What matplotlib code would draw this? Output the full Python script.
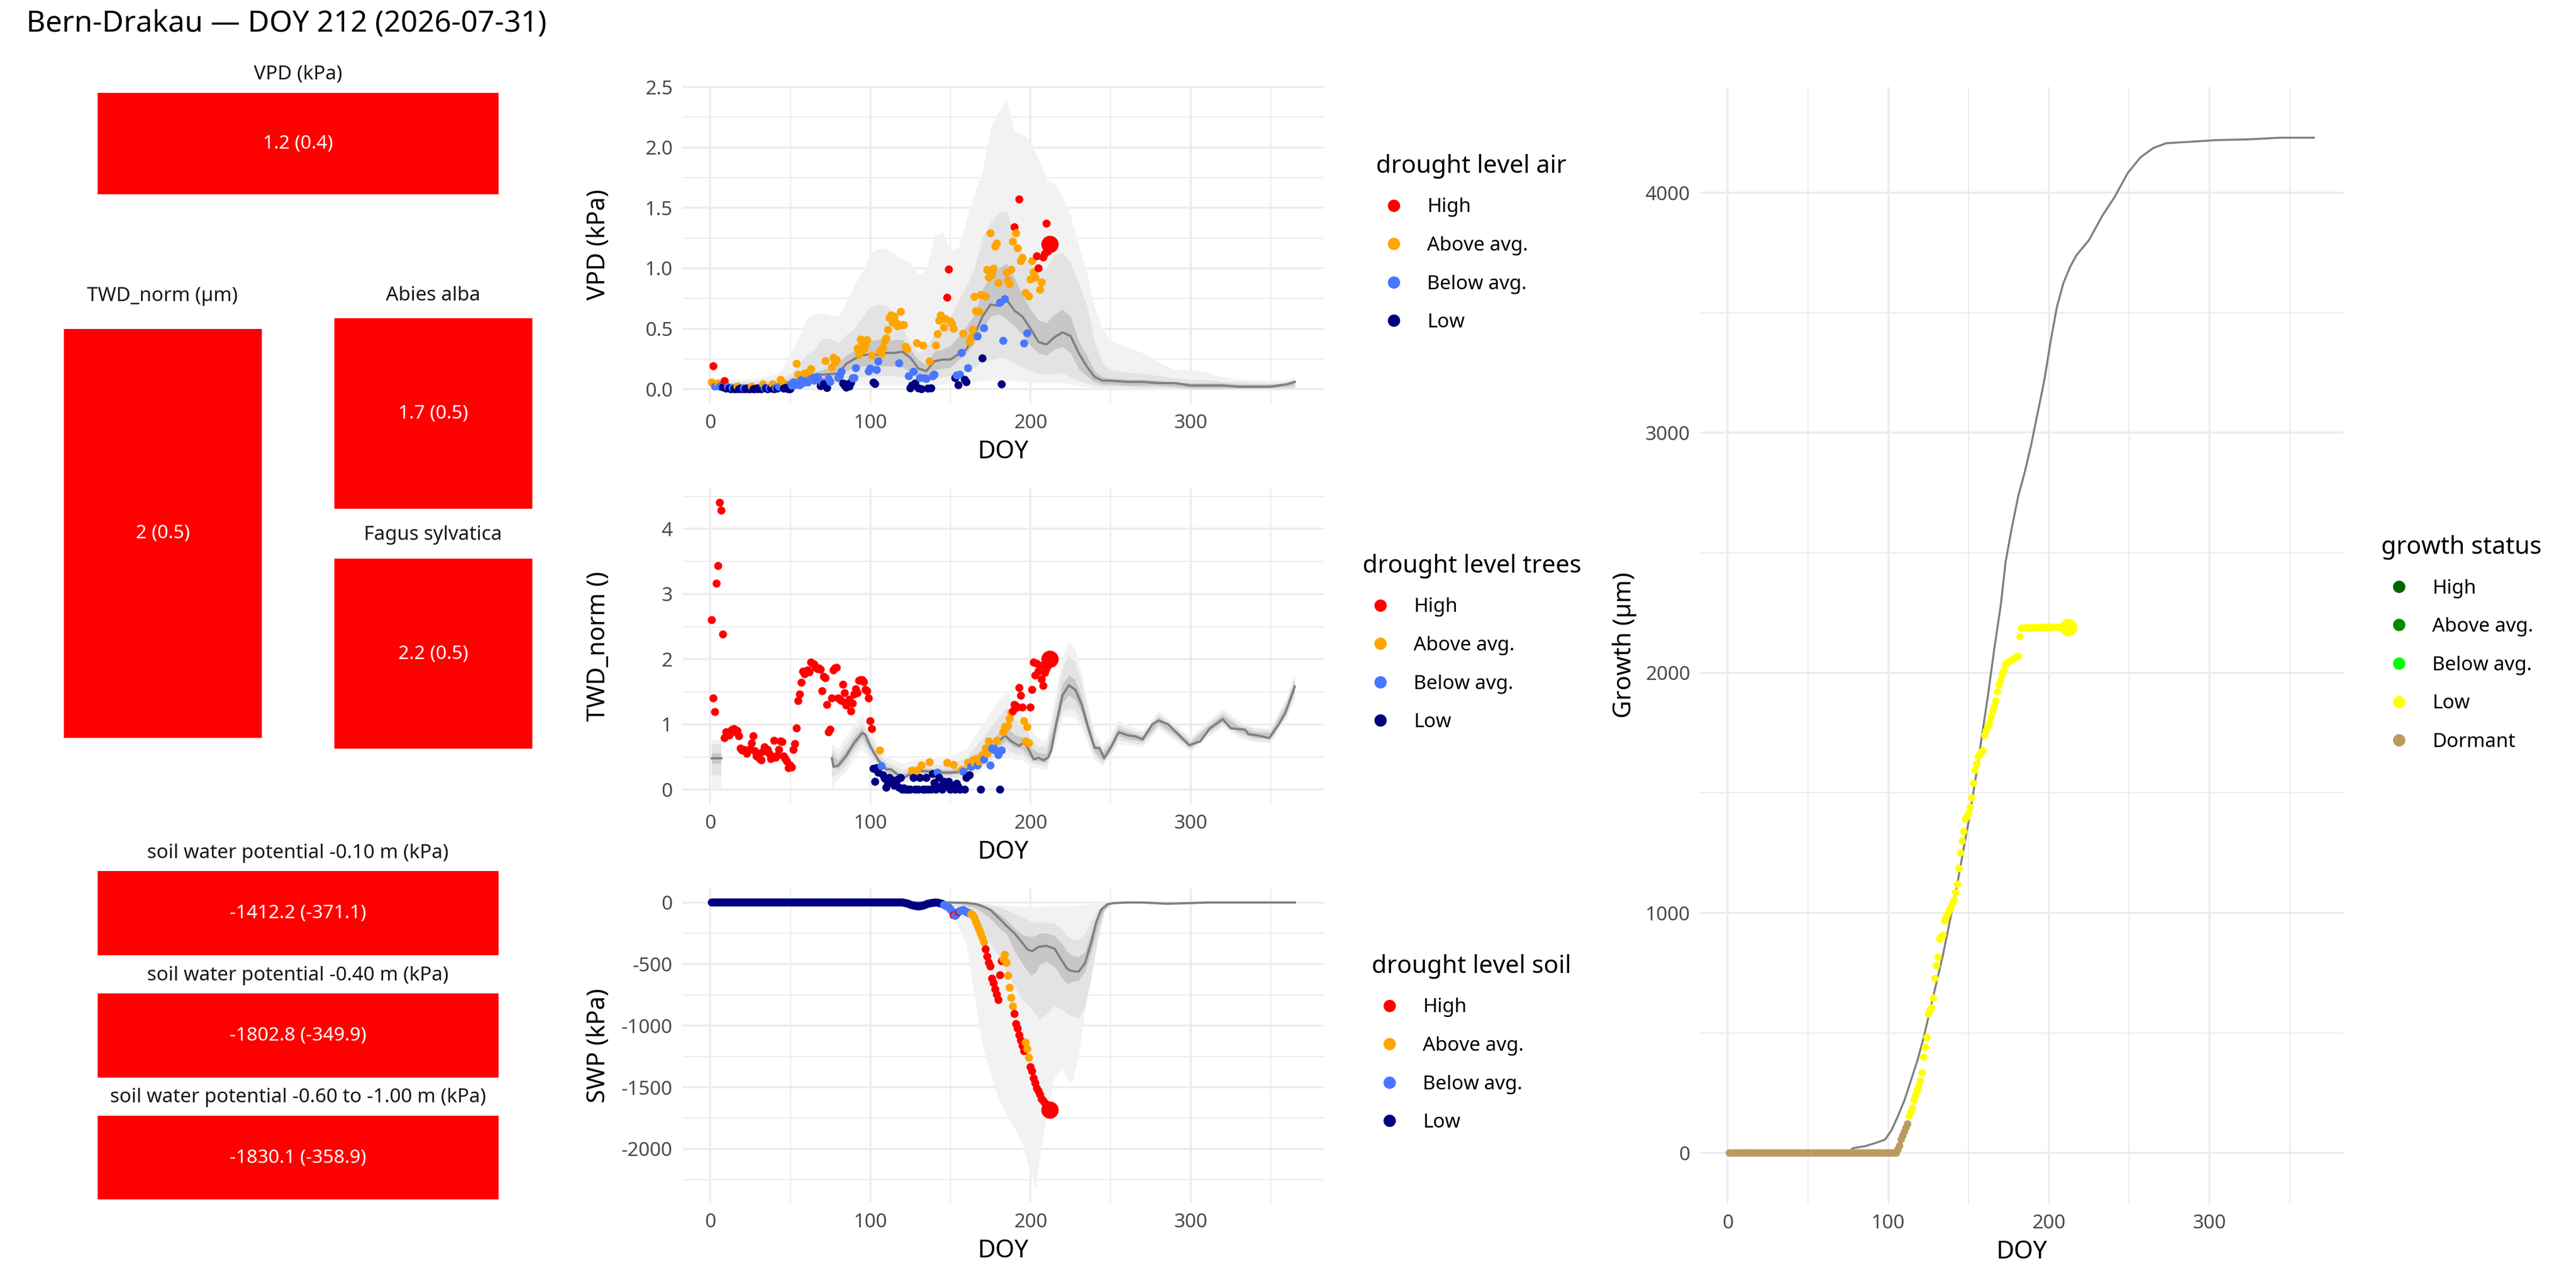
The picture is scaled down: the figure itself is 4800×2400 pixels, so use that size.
import numpy as np
import matplotlib
matplotlib.use("Agg")
import matplotlib.pyplot as plt
from matplotlib.lines import Line2D
from matplotlib.patches import Rectangle
from matplotlib.ticker import MultipleLocator, FormatStrFormatter

plt.rcParams['font.family'] = ['Noto Sans', 'DejaVu Sans']
plt.rcParams['axes.unicode_minus'] = False

nan = np.nan

# ---------------- data ----------------
plot_title = "Bern-Drakau \u2014 DOY 212 (2026-07-31)"

tile_titles = ["VPD (kPa)", "TWD_norm (\u00b5m)", "Abies alba", "Fagus sylvatica",
               "soil water potential -0.10 m (kPa)", "soil water potential -0.40 m (kPa)",
               "soil water potential -0.60 to -1.00 m (kPa)"]
tile_values = ["1.2 (0.4)", "2 (0.5)", "1.7 (0.5)", "2.2 (0.5)",
               "-1412.2 (-371.1)", "-1802.8 (-349.9)", "-1830.1 (-358.9)"]
tile_levels = ["H", "H", "H", "H", "H", "H", "H"]

level_codes = ["H", "A", "B", "L"]
level_names = ["High", "Above avg.", "Below avg.", "Low"]
level_colors = ["#FF0000", "#FFA500", "#4876FF", "#000080"]

growth_codes = ["GH", "GA", "GB", "Y", "D"]
growth_names = ["High", "Above avg.", "Below avg.", "Low", "Dormant"]
growth_colors = ["#006400", "#008B00", "#00FF00", "#FFFF00", "#BA9B5F"]

obs_doy = list(range(1, 213))

# VPD observations (daily, DOY 1..212)
vpd_obs = [
    0.055, 0.19, 0.022, 0.03, 0.047, 0.02, 0.028, 0.015, 0.067, 0.005,
    0.018, 0.005, 0.0, 0.01, 0.0, 0.0, 0.022, 0.0, 0.005, 0.0,
    0.008, 0.0, 0.005, 0.0, 0.0, 0.02, 0.0, 0.0, 0.005, 0.0,
    0.01, 0.0, 0.04, 0.01, 0.005, 0.0, 0.008, 0.005, 0.04, 0.0,
    0.01, 0.005, 0.02, 0.077, 0.06, 0.005, 0.01, 0.005, 0.0, 0.0,
    0.03, 0.055, 0.033, 0.21, 0.12, 0.033, 0.077, 0.05, 0.13, 0.06,
    0.055, 0.145, 0.166, 0.09, 0.07, 0.092, 0.10, 0.07, 0.025, 0.055,
    0.04, 0.233, 0.01, 0.085, 0.06, 0.18, 0.26, 0.22, 0.24, 0.092,
    0.11, 0.144, 0.047, 0.03, 0.013, 0.04, 0.022, 0.055, 0.09, 0.092,
    0.174, 0.337, 0.285, 0.41, 0.38, 0.33, 0.36, 0.406, 0.147, 0.17,
    0.277, 0.055, 0.043, 0.159, 0.23, 0.315, 0.29, 0.344, 0.40, 0.42,
    0.49, 0.589, 0.61, 0.55, 0.60, 0.55, 0.52, 0.214, 0.64, 0.53,
    0.53, 0.35, 0.33, 0.107, 0.007, 0.03, 0.144, 0.047, 0.38, 0.007,
    0.092, 0.0, 0.36, 0.09, 0.085, 0.005, 0.23, 0.007, 0.107, 0.12,
    0.36, 0.455, 0.567, 0.61, 0.58, 0.51, 0.58, 0.757, 0.99, 0.56,
    0.54, 0.50, 0.092, 0.114, 0.033, 0.12, 0.30, 0.458, 0.077, 0.058,
    0.174, 0.39, 0.426, 0.49, 0.764, 0.645, 0.436, 0.64, 0.78, 0.255,
    0.505, 0.767, 0.987, 0.923, 1.29, 0.945, 0.997, 1.18, 1.205, 0.878,
    0.715, 0.04, 0.40, 0.745, 0.967, 0.90, 0.87, 0.987, 1.22, 1.34,
    1.29, 1.165, 1.57, 1.06, 1.086, 0.378, 0.797, 0.463, 0.767, 0.908,
    1.06, 0.967, 0.923, 1.10, 1.00, 0.823, 0.883, 1.09, 1.12, 1.37,
    1.14, 1.20]
vpd_level = list(
    "AHBBABBLHL" "BLLBLLALLL" "BLLLLALLLL" "LLABLLBLAL" "BLBAALLLLL"
    "BBBAABBBAB" "BAABBBBBLB" "LALBBAAAAB" "BBLLLLLLBB" "BAAAAAAABB"
    "ALLBBAAAAA" "AAAAAAABAA" "AAABLLBLAL" "BLABBLALBB" "AAAAAAAHHA"
    "AALBLBBALL" "BAAAAABAAL" "BAAAAAAAAA" "BLBBAAAAAH" "AAHAABABAA"
    "AAAHHAAHHH" "HH")

# TWD_norm observations
twd_obs = [
    2.60, 1.40, 1.19, 3.16, 3.43, 4.40, 4.28, 2.38, 0.79, 0.88,
    0.85, 0.83, 0.90, 0.92, 0.93, 0.88, 0.90, 0.82, 0.63, 0.60,
    0.61, 0.60, 0.55, 0.60, 0.62, 0.71, 0.82, 0.59, 0.51, 0.55,
    0.47, 0.45, 0.58, 0.65, 0.60, 0.61, 0.55, 0.47, 0.50, 0.75,
    0.49, 0.52, 0.61, 0.74, 0.73, 0.51, 0.47, 0.43, 0.33, 0.37,
    0.34, 0.61, 0.70, 0.94, 1.36, 1.46, 1.64, 1.81, 1.77, 1.79,
    1.83, 1.80, 1.95, 1.93, 1.92, 1.87, 1.85, 1.86, 1.84, 1.51,
    1.73, 1.71, 1.30, 0.88, 0.92, 1.40, 1.83, 1.86, 1.87, 1.40,
    1.38, 1.36, 1.61, 1.48, 1.29, 1.33, 1.38, 1.20, 1.32, 1.46,
    1.54, 1.48, 1.67, 1.68, 1.68, 1.65, 1.53, 1.51, 1.40, 1.05,
    0.93, 0.32, 0.12, 0.33, 0.26, 0.60, 0.36, 0.22, 0.17, 0.03,
    0.10, 0.18, 0.12, 0.14, 0.06, 0.08, 0.15, 0.03, 0.18, 0.0,
    0.02, 0.0, 0.0, 0.0, 0.0, 0.29, 0.18, 0.0, 0.29, 0.0,
    0.18, 0.37, 0.0, 0.0, 0.18, 0.0, 0.42, 0.0, 0.24, 0.10,
    0.0, 0.26, 0.18, 0.05, 0.0, 0.12, 0.05, 0.41, 0.12, 0.0,
    0.06, 0.38, 0.0, 0.09, 0.04, 0.0, 0.30, 0.275, 0.0, 0.18,
    0.41, 0.22, 0.35, 0.45, 0.41, 0.47, 0.37, 0.43, 0.0, 0.53,
    0.46, 0.63, 0.55, 0.74, 0.37, 0.63, 0.61, 0.61, 0.75, 0.53,
    0.0, 0.60, 0.88, 0.96, 0.96, 0.98, 1.09, 1.18, 1.20, 1.30,
    1.28, 1.26, 1.56, 1.44, 1.26, 1.05, 0.74, 0.96, 0.71, 1.26,
    1.53, 1.95, 1.75, 1.93, 1.81, 1.90, 1.69, 1.59, 1.79, 1.85,
    1.90, 2.00]
twd_level = list(
    "HHHHHHHHHH" "HHHHHHHHHH" "HHHHHHHHHH" "HHHHHHHHHH" "HHHHHHHHHH"
    "HHHHHHHHHH" "HHHHHHHHHH" "HHHHHHHHHH" "HHHHHHHHHH" "HHHHHHHHHH"
    "HLLLLABLLL" "LLLLLLLLLL" "LLLLLALLAL" "LALLLLALLL" "LBLLLLLALL"
    "LALLLLABLL" "ALBAAABALA" "BAAABBBBAB" "LBAAAAAAHH" "HHHHHAAAAH"
    "HHHHHHHHHH" "HH")

# soil water potential observations (kPa)
swp_obs = [0] * 120 + [
    -3, -5, -8, -12, -18, -22, -25, -28, -30, -32,
    -30, -28, -25, -20, -15, -10, -8, -5, -3, -2,
    0, -2, -5, -8, -12, -20, -28, -35, -39, -55,
    -71, -104, -108, -95, -78, -70, -65, -61, -70, -78,
    -85, -89, -95, -104, -125, -160, -190, -223, -255, -288,
    -324, -380, -439, -489, -519, -618, -655, -705, -748, -791,
    -590, -476, -460, -424, -489, -595, -692, -774, -843, -904,
    -986, -1023, -1077, -1120, -1163, -1206, -1137, -1189, -1260, -1336,
    -1369, -1427, -1466, -1509, -1531, -1560, -1596, -1610, -1628, -1640,
    -1660, -1682]
swp_level = list("L" * 145 + "BBBBBBHBBHBBBBBBB" "AAAAAAAAA" "HHHHHHHHHHH"
                 "AAAAAAA" "HHHHHHH" "AAA" "HHHHHHHHHHHHH")

# growth observations (µm)
gr_obs = [0] * 105 + [
    15, 30, 56, 72, 88, 105, 121,
    154, 170, 187, 219, 240, 259, 280, 301, 334, 399,
    440, 481, 579, 595, 605, 645, 727, 780, 815, 890,
    900, 907, 966, 980, 995, 1010, 1021, 1040, 1054, 1085,
    1119, 1185, 1250, 1299, 1339, 1391, 1400, 1414, 1440, 1479,
    1540, 1594, 1620, 1650, 1660, 1670, 1676, 1740, 1758, 1775,
    1790, 1815, 1839, 1860, 1882, 1921, 1950, 1970, 1995, 2010,
    2036, 2040, 2045, 2049, 2053, 2058, 2062, 2066, 2069, 2150,
    2186, 2186, 2186, 2187, 2187, 2187, 2188, 2188, 2188, 2188,
    2188, 2189, 2189, 2189, 2189, 2189, 2189, 2189, 2190, 2190,
    2190, 2190, 2190, 2190, 2190, 2190, 2190, 2190, 2190, 2190]
gr_level = ["D"] * 112 + ["Y"] * 100

# VPD climatology: median and three quantile ribbons
vpd_clim_doy = [1, 10, 20, 30, 40, 45, 50, 55, 60, 65, 70, 75, 80, 85, 90, 95, 100,
                105, 110, 115, 120, 125, 130, 135, 140, 145, 150, 155, 160, 165, 170,
                175, 180, 185, 190, 195, 200, 205, 210, 215, 220, 225, 230, 235, 240,
                245, 250, 260, 270, 280, 290, 300, 310, 320, 330, 340, 350, 360, 365]
vpd_med = [0.03, 0.02, 0.02, 0.02, 0.03, 0.04, 0.06, 0.08, 0.10, 0.12, 0.12, 0.125, 0.13,
           0.21, 0.25, 0.28, 0.29, 0.285, 0.30, 0.30, 0.31, 0.26, 0.17, 0.15, 0.23, 0.245,
           0.245, 0.29, 0.33, 0.45, 0.60, 0.70, 0.69, 0.74, 0.65, 0.60, 0.50, 0.39, 0.37,
           0.43, 0.47, 0.44, 0.30, 0.19, 0.10, 0.07, 0.07, 0.06, 0.06, 0.05, 0.05, 0.03,
           0.03, 0.03, 0.02, 0.02, 0.02, 0.04, 0.06]
vpd_in_lo = [.01, .01, .01, .01, .015, .02, .03, .05, .07, .09, .09, .10, .11, .15, .17, .19,
             .19, .19, .19, .19, .18, .14, .10, .09, .16, .17, .18, .24, .30, .38, .50, .60,
             .62, .58, .52, .45, .36, .30, .28, .33, .35, .30, .17, .11, .06, .04, .04, .03,
             .03, .03, .02, .01, .01, .01, .01, .01, .01, .02, .03]
vpd_in_hi = [.05, .04, .04, .04, .05, .06, .09, .11, .13, .14, .16, .18, .22, .28, .32, .37,
             .40, .41, .40, .41, .41, .33, .24, .20, .31, .33, .36, .43, .52, .62, .82, .94,
             1.00, 1.04, .92, .78, .66, .57, .55, .62, .66, .60, .40, .28, .15, .10, .09, .08,
             .08, .07, .06, .05, .05, .05, .04, .04, .04, .05, .07]
vpd_mid_lo = [0, 0, 0, 0, .01, .01, .02, .03, .04, .05, .05, .06, .07, .08, .09, .10, .11,
              .11, .11, .11, .10, .08, .06, .05, .08, .10, .11, .13, .15, .18, .22, .24, .26,
              .25, .22, .18, .15, .13, .12, .13, .13, .10, .07, .05, .03, .02, .02, .02, .01,
              .01, .01, 0, 0, 0, 0, 0, 0, 0, .01]
vpd_mid_hi = [.07, .06, .06, .07, .08, .10, .12, .20, .28, .33, .42, .42, .38, .45, .50, .60,
              .68, .70, .69, .63, .50, .38, .30, .34, .46, .53, .60, .73, .85, 1.00, 1.25,
              1.38, 1.46, 1.47, 1.27, 1.12, 1.03, .99, 1.00, 1.12, 1.13, 1.05, .88, .70, .40,
              .22, .16, .14, .13, .11, .09, .08, .08, .06, .06, .05, .05, .06, .08]
vpd_out_lo = [0, 0, 0, 0, 0, 0, 0, .01, .01, .01, .02, .02, .02, .02, .03, .03, .03, .03,
              .03, .03, .03, .02, .02, .02, .03, .04, .05, .05, .06, .06, .07, .07, .07, .07,
              .07, .06, .05, .05, .05, .05, .05, .04, .03, .02, .01, .01, .01, .01, 0, 0, 0,
              0, 0, 0, 0, 0, 0, 0, 0]
vpd_out_hi = [.09, .08, .08, .09, .12, .16, .30, .42, .58, .62, .63, .61, .60, .72, .86, .97,
              1.12, 1.16, 1.16, 1.12, 1.07, 1.05, .95, .98, 1.27, 1.30, 1.14, 1.17, 1.40, 1.62,
              1.80, 2.15, 2.30, 2.39, 2.13, 2.11, 2.05, 1.90, 1.73, 1.70, 1.60, 1.43, 1.20,
              .97, .68, .50, .40, .35, .30, .22, .16, .16, .14, .10, .08, .07, .07, .08, .10]

# TWD climatology (gap between early January and mid March)
twd_clim_doy = [1, 7, 40, 76, 77, 80, 85, 90, 95, 97, 100, 105, 110, 113, 117, 121, 125,
                130, 135, 140, 145, 150, 155, 160, 165, 170, 175, 180, 184, 188, 193, 196,
                199, 202, 205, 208, 211, 213, 216, 220, 224, 228, 232, 236, 240, 243, 246,
                250, 255, 261, 265, 270, 276, 280, 286, 293, 299, 306, 312, 320, 325, 334,
                336, 342, 349, 355, 359, 365]
twd_med = [0.48, 0.48, nan, 0.48, 0.35, 0.37, 0.52, 0.72, 0.87, 0.84, 0.66, 0.45, 0.31,
           0.31, 0.23, 0.18, 0.24, 0.29, 0.28, 0.27, 0.26, 0.26, 0.27, 0.31, 0.40, 0.50,
           0.60, 0.73, 0.83, 0.74, 0.67, 0.73, 0.61, 0.46, 0.49, 0.45, 0.49, 0.61, 1.00,
           1.45, 1.60, 1.53, 1.30, 0.95, 0.64, 0.64, 0.48, 0.64, 0.88, 0.83, 0.82, 0.77,
           1.00, 1.06, 1.00, 0.83, 0.68, 0.74, 0.94, 1.08, 0.94, 0.92, 0.85, 0.83, 0.79,
           1.00, 1.17, 1.58]
twd_rib_doy = [1, 7, 40, 76, 80, 85, 90, 95, 100, 105, 110, 115, 120, 130, 140, 150, 160,
               170, 180, 185, 190, 195, 200, 205, 210, 215, 220, 224, 228, 232, 236, 240,
               245, 250, 255, 260, 270, 280, 290, 300, 310, 320, 330, 340, 350, 360, 365]
twd_in_lo = [.40, .40, nan, .38, .31, .45, .65, .80, .60, .40, .27, .22, .16, .25, .23, .22,
             .26, .43, .65, .74, .64, .62, .48, .43, .41, .80, 1.32, 1.44, 1.38, 1.18, .86,
             .58, .45, .59, .82, .78, .73, 1.01, .84, .64, .86, 1.03, .88, .79, .78, 1.19, 1.50]
twd_in_hi = [.55, .55, nan, .56, .44, .60, .80, .94, .73, .50, .36, .30, .24, .33, .31, .30,
             .37, .60, .85, .96, .84, .80, .64, .56, .55, 1.02, 1.60, 1.75, 1.68, 1.42, 1.05,
             .71, .56, .70, .94, .89, .82, 1.11, .93, .72, .95, 1.14, .97, .88, .87, 1.31, 1.66]
twd_mid_lo = [.22, .22, nan, .18, .24, .37, .56, .72, .53, .35, .22, .18, .12, .21, .19, .18,
              .21, .36, .55, .62, .55, .54, .42, .38, .36, .72, 1.20, 1.24, 1.22, 1.05, .78,
              .52, .40, .54, .76, .73, .69, .97, .80, .61, .82, .99, .84, .75, .74, 1.14, 1.44]
twd_mid_hi = [.70, .70, nan, .62, .52, .70, .90, 1.02, .82, .58, .42, .36, .30, .38, .37, .38,
              .48, .78, 1.10, 1.25, 1.08, .98, .80, .66, .65, 1.20, 1.85, 2.05, 1.95, 1.62,
              1.18, .80, .62, .76, 1.00, .94, .86, 1.15, .97, .76, .99, 1.19, 1.01, .92, .91,
              1.36, 1.72]
twd_out_lo = [.03, .03, nan, .02, .15, .28, .46, .62, .45, .29, .17, .13, .08, .16, .14, .13,
              .15, .29, .46, .52, .46, .45, .35, .32, .30, .64, 1.10, 1.12, 1.10, .95, .70,
              .46, .36, .50, .70, .68, .65, .93, .76, .58, .78, .95, .80, .72, .71, 1.09, 1.38]
twd_out_hi = [.76, .76, nan, .70, .62, .82, 1.02, 1.14, .92, .66, .50, .44, .40, .47, .47,
              .50, .62, .98, 1.36, 1.50, 1.30, 1.15, .95, .78, .76, 1.35, 2.05, 2.28, 2.15,
              1.78, 1.30, .88, .68, .82, 1.06, 1.00, .90, 1.20, 1.01, .80, 1.03, 1.24, 1.05,
              .95, .94, 1.41, 1.78]

# SWP climatology
swp_clim_doy = [1, 100, 150, 160, 166, 170, 175, 181, 185, 190, 195, 198, 201, 205, 210,
                215, 220, 223, 226, 230, 234, 238, 241, 244, 248, 252, 260, 270, 285, 300,
                310, 330, 365]
swp_med = [0, 0, 0, -3, -13, -30, -61, -136, -190, -250, -330, -380, -396, -360, -352,
           -375, -480, -540, -557, -562, -493, -320, -160, -60, -15, -5, 0, 0, -10, -5,
           0, 0, 0]
swp_rib_doy = [1, 140, 150, 155, 160, 165, 170, 175, 180, 185, 190, 195, 200, 203, 206,
               210, 215, 220, 223, 226, 230, 234, 238, 242, 246, 250, 255, 365]
swp_in_lo = [0, 0, -5, -12, -25, -40, -80, -130, -200, -255, -390, -500, -590, -570, -500,
             -480, -520, -620, -660, -640, -635, -560, -400, -200, -60, -10, 0, 0]
swp_in_hi = [0, 0, 0, -2, -5, -10, -20, -45, -90, -140, -210, -260, -280, -270, -250,
             -250, -270, -340, -400, -430, -440, -400, -240, -100, -20, 0, 0, 0]
swp_mid_lo = [0, 0, -15, -40, -80, -140, -220, -330, -440, -560, -680, -790, -850, -900,
              -950, -900, -840, -870, -900, -920, -940, -850, -600, -300, -80, -15, 0, 0]
swp_mid_hi = [0, 0, 0, 0, -2, -5, -10, -20, -35, -60, -90, -120, -150, -160, -160, -160,
              -170, -220, -270, -300, -300, -250, -150, -60, -10, 0, 0, 0]
swp_out_lo = [0, -2, -82, -200, -340, -760, -1150, -1380, -1600, -1720, -1830, -1960,
              -2200, -2320, -2050, -1720, -1420, -1340, -1440, -1460, -1250, -870, -560,
              -250, -60, -10, 0, 0]
swp_out_hi = [0, 0, 0, 0, 0, -5, -10, -15, -20, -25, -30, -35, -35, -35, -35, -30, -30,
              -30, -30, -25, -20, -15, -10, -5, 0, 0, 0, 0]

# growth climatology
gr_clim_doy = [1, 74, 78, 86, 94, 98, 102, 106, 110, 114, 118, 122, 126, 130, 134, 138,
               142, 146, 150, 154, 158, 162, 166, 170, 173, 177, 181, 185, 189, 193, 197,
               201, 205, 209, 213, 217, 225, 233, 241, 249, 257, 265, 273, 288, 304, 324,
               344, 365]
gr_clim = [0, 0, 20, 29, 46, 56, 95, 154, 219, 301, 383, 481, 596, 710, 825, 956, 1087,
           1234, 1381, 1545, 1725, 1905, 2101, 2281, 2461, 2608, 2739, 2837, 2952, 3083,
           3214, 3378, 3525, 3623, 3688, 3738, 3803, 3901, 3983, 4081, 4147, 4186, 4206,
           4212, 4219, 4222, 4229, 4229]

# ---------------- layout / style ----------------
W, H = 4800, 2400
fig = plt.figure(figsize=(16, 8), dpi=300)
RIB = ["#F2F2F2", "#E3E3E3", "#C7C7C7"]
LINE = "#808080"
GRID = "#EBEBEB"


def frac(x0, y0, x1, y1):
    return [x0 / W, 1 - y1 / H, (x1 - x0) / W, (y1 - y0) / H]


def style(ax, ymaj, ymin, fmt=None):
    for s in ax.spines.values():
        s.set_visible(False)
    ax.xaxis.set_major_locator(MultipleLocator(100))
    ax.xaxis.set_minor_locator(MultipleLocator(50))
    ax.yaxis.set_major_locator(MultipleLocator(ymaj))
    ax.yaxis.set_minor_locator(MultipleLocator(ymin))
    if fmt:
        ax.yaxis.set_major_formatter(FormatStrFormatter(fmt))
    ax.grid(which='major', color=GRID, lw=0.85)
    ax.grid(which='minor', color=GRID, lw=0.5)
    ax.set_axisbelow(True)
    ax.tick_params(which='both', length=0, labelsize=8.8, labelcolor='#4D4D4D', pad=4.5)
    ax.set_xlabel("DOY", fontsize=11, labelpad=3)


def add_legend(ax, names, colors, title, x_px, y_px):
    handles = [Line2D([], [], ls='', marker='o', ms=5.5, mfc=c, mec=c, mew=0) for c in colors]
    ax.legend(handles, names, title=title, loc='center left',
              bbox_to_anchor=(x_px / W, 1 - y_px / H), bbox_transform=fig.transFigure,
              frameon=False, fontsize=8.8, title_fontsize=11, alignment='left',
              borderpad=0, borderaxespad=0, handlelength=1.8, handletextpad=0.8,
              labelspacing=0.97)


def drought_panel(box, clim_doy, med, rib_doy, ribbons, obs, levels, ylabel,
                  ymaj, ymin, fmt, leg_title, leg_xy):
    ax = fig.add_axes(frac(*box))
    for (lo, hi), col in zip(ribbons, RIB):
        ax.fill_between(rib_doy, lo, hi, color=col, lw=0, zorder=1)
    ax.plot(clim_doy, med, color=LINE, lw=1.0, zorder=2)
    cmap = dict(zip(level_codes, level_colors))
    cols = [cmap[l] for l in levels]
    ax.scatter(obs_doy[:-1], obs[:-1], c=cols[:-1], s=13, linewidths=0, zorder=3)
    ax.scatter(obs_doy[-1:], obs[-1:], c=cols[-1:], s=60, linewidths=0, zorder=4)
    style(ax, ymaj, ymin, fmt)
    ax.set_ylabel(ylabel, fontsize=11)
    ax.yaxis.set_label_coords(-0.112, 0.5)
    add_legend(ax, level_names, level_colors, leg_title, *leg_xy)
    return ax


# title
fig.text(49 / W, 1 - 44 / H, plot_title, fontsize=13.2, ha='left', va='center')

# tiles
tile_boxes = [(182, 173, 929, 362), (119, 613, 488, 1375), (623, 593, 992, 948),
              (623, 1041, 992, 1395), (182, 1623, 929, 1780), (182, 1851, 929, 2008),
              (182, 2079, 929, 2235)]
tile_title_xy = [(555, 139), (303, 552), (807, 551), (807, 997),
                 (555, 1590), (555, 1818), (555, 2045)]
tile_cmap = dict(zip(level_codes, level_colors))
for name, val, lev, bx, (tx, ty) in zip(tile_titles, tile_values, tile_levels,
                                         tile_boxes, tile_title_xy):
    tax = fig.add_axes(frac(*bx))
    tax.set_axis_off()
    tax.add_patch(Rectangle((0, 0), 1, 1, color=tile_cmap[lev], transform=tax.transAxes))
    tax.text(0.5, 0.5, val, ha='center', va='center', color='white', fontsize=8.5,
             transform=tax.transAxes)
    fig.text(tx / W, 1 - ty / H, name, ha='center', va='center', fontsize=8.8,
             color='#1A1A1A')

# middle column
ax1 = drought_panel((1272, 160, 2467, 752), vpd_clim_doy, vpd_med, vpd_clim_doy,
                    [(vpd_out_lo, vpd_out_hi), (vpd_mid_lo, vpd_mid_hi), (vpd_in_lo, vpd_in_hi)],
                    vpd_obs, vpd_level, "VPD (kPa)", 0.5, 0.25, '%.1f',
                    "drought level air", (2564, 453))
ax2 = drought_panel((1272, 910, 2467, 1498), twd_clim_doy, twd_med, twd_rib_doy,
                    [(twd_out_lo, twd_out_hi), (twd_mid_lo, twd_mid_hi), (twd_in_lo, twd_in_hi)],
                    twd_obs, twd_level, "TWD_norm ()", 1, 0.5, '%d',
                    "drought level trees", (2539, 1198))
ax3 = drought_panel((1272, 1655, 2467, 2241), swp_clim_doy, swp_med, swp_rib_doy,
                    [(swp_out_lo, swp_out_hi), (swp_mid_lo, swp_mid_hi), (swp_in_lo, swp_in_hi)],
                    swp_obs, swp_level, "SWP (kPa)", 500, 250, '%d',
                    "drought level soil", (2556, 1944))

# growth panel
axg = fig.add_axes(frac(3168, 162, 4366, 2243))
axg.plot(gr_clim_doy, gr_clim, color=LINE, lw=0.9, zorder=2)
gmap = dict(zip(growth_codes, growth_colors))
gcols = [gmap[l] for l in gr_level]
axg.scatter(obs_doy[:-1], gr_obs[:-1], c=gcols[:-1], s=11, linewidths=0, zorder=3)
axg.scatter(obs_doy[-1:], gr_obs[-1:], c=gcols[-1:], s=62, linewidths=0, zorder=4)
style(axg, 1000, 500)
axg.set_ylabel("Growth (\u00b5m)", fontsize=11)
axg.yaxis.set_label_coords(-0.0985, 0.5)
add_legend(axg, growth_names, growth_colors, "growth status", 4437, 1199)

fig.savefig("out.png", dpi=300, facecolor='white')
